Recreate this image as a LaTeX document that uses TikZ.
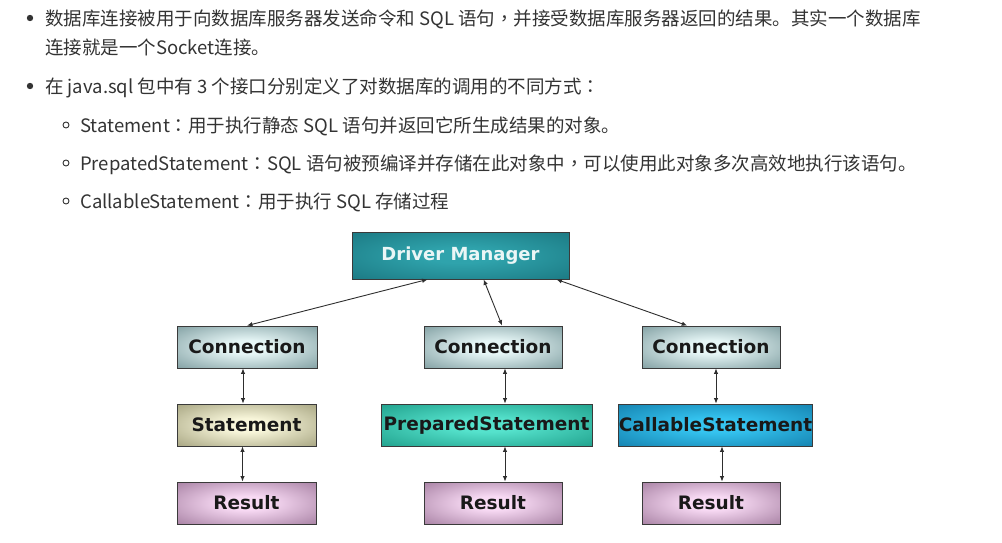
\documentclass[tikz,border=0pt]{standalone}
\usepackage{fontspec}
\setmainfont{Noto Sans CJK SC}
\newfontfamily\tcfont{Noto Sans CJK TC}
\newfontfamily\boxfont{DejaVu Sans}
\newcommand{\mpunct}[1]{{\tcfont #1}}
\usepackage{xcolor}
\usetikzlibrary{arrows.meta,positioning,calc}
\definecolor{txt}{HTML}{333333}
\definecolor{boxline}{HTML}{3A3A3A}
\definecolor{linkcol}{HTML}{2E2E2E}
\definecolor{dmIn}{HTML}{2FA3AC}\definecolor{dmOut}{HTML}{156B75}\definecolor{dmText}{HTML}{EAF6F6}
\definecolor{conIn}{HTML}{E6F6F6}\definecolor{conOut}{HTML}{5E8185}
\definecolor{stIn}{HTML}{F8F6DA}\definecolor{stOut}{HTML}{8A8862}
\definecolor{prepIn}{HTML}{55E2CC}\definecolor{prepOut}{HTML}{0E8A76}
\definecolor{callIn}{HTML}{35C4F0}\definecolor{callOut}{HTML}{0A6C9A}
\definecolor{resIn}{HTML}{F8DAF4}\definecolor{resOut}{HTML}{8B6287}
\pgfdeclareradialshading[glowin,glowout]{boxglow}{\pgfpoint{0bp}{0bp}}{color(0bp)=(glowin); color(8bp)=(glowin); color(46bp)=(glowout); color(75bp)=(glowout)}
\colorlet{glowin}{white}\colorlet{glowout}{gray}
\tikzset{box/.style={rectangle, draw=boxline, line width=0.8pt, minimum height=42pt, inner sep=0pt, font=\boxfont\bfseries\fontsize{18.5}{18.5}\selectfont, text=black!90},
glow/.style 2 args={/utils/exec={\colorlet{glowin}{#1}\colorlet{glowout}{#2}}, shade, shading=boxglow},
link/.style={line width=0.9pt, draw=linkcol, {Latex[length=5.5pt,width=4.5pt]}-{Latex[length=5.5pt,width=4.5pt]}},
textline/.style={anchor=west, inner sep=0pt, text=txt, text height=16pt, text depth=1.5pt, font=\fontsize{18.5}{18.5}\selectfont}}

\begin{document}
\begin{tikzpicture}[x=1pt,y=-1pt]
	\useasboundingbox (0,0) rectangle (1002,542);
	% text above the diagram
	\fill[txt] (30,18) circle (3.2pt);
	\fill[txt] (30,86) circle (3.2pt);
	\foreach \y in {125,163,201} \draw[txt, line width=0.9pt] (66,\y) circle (3pt);
	\node[textline] (line1) at (45,18) {数据库连接被用于向数据库服务器发送命令和 SQL 语句\mpunct{，}并接受数据库服务器返回的结果。其实一个数据库};
	\node[textline] (line2) at (45,47) {连接就是一个Socket连接。};
	\node[textline] (line3) at (45,86) {在 java.sql 包中有 3 个接口分别定义了对数据库的调用的不同方式\mpunct{：}};
	\node[textline] (line4) at (80,125) {Statement\mpunct{：}用于执行静态 SQL 语句并返回它所生成结果的对象。};
	\node[textline] (line5) at (80,163) {PrepatedStatement\mpunct{：}SQL 语句被预编译并存储在此对象中\mpunct{，}可以使用此对象多次高效地执行该语句。};
	\node[textline] (line6) at (80,201) {CallableStatement\mpunct{：}用于执行 SQL 存储过程};
	% diagram
	\node[box, glow={dmIn}{dmOut}, minimum width=217pt, minimum height=47pt, text=dmText, font=\boxfont\bfseries\fontsize{18}{18}\selectfont] (dm) at (460.5,255.5) {Driver Manager};
	\node[box, glow={conIn}{conOut}, minimum width=140pt] (conA) at (247,347) {Connection};
	\node[box, glow={conIn}{conOut}, minimum width=138pt] (conB) at (493,347) {Connection};
	\node[box, glow={conIn}{conOut}, minimum width=138pt] (conC) at (711,347) {Connection};
	\node[box, glow={stIn}{stOut}, minimum width=139pt] (stA) at (246.5,425) {Statement};
	\node[box, glow={prepIn}{prepOut}, minimum width=211pt] (stB) at (486.5,425) {PreparedStatement};
	\node[box, glow={callIn}{callOut}, minimum width=189pt] (stC) at (715.5,425) {CallableStatement};
	\node[box, glow={resIn}{resOut}, minimum width=139pt] (resA) at (246.5,503) {Result};
	\node[box, glow={resIn}{resOut}, minimum width=138pt] (resB) at (493,503) {Result};
	\node[box, glow={resIn}{resOut}, minimum width=138pt] (resC) at (711,503) {Result};
	\draw[link] (dm.216) -- (conA.north);
	\draw[link] (dm.-46) -- (conB.67);
	\draw[link] (dm.-14.3) -- (conC.138);
	\draw[link] ([xshift=-4pt]conA.south) -- ([xshift=-4pt]conA.south |- stA.north);
	\draw[link] ([xshift=12pt]conB.south) -- ([xshift=12pt]conB.south |- stB.north);
	\draw[link] ([xshift=5pt]conC.south) -- ([xshift=5pt]conC.south |- stC.north);
	\draw[link] ([xshift=-4pt]stA.south) -- ([xshift=-4pt]stA.south |- resA.north);
	\draw[link] ([xshift=12pt]resB.north |- stB.south) -- ([xshift=12pt]resB.north);
	\draw[link] ([xshift=11pt]resC.north |- stC.south) -- ([xshift=11pt]resC.north);
\end{tikzpicture}
\end{document}
